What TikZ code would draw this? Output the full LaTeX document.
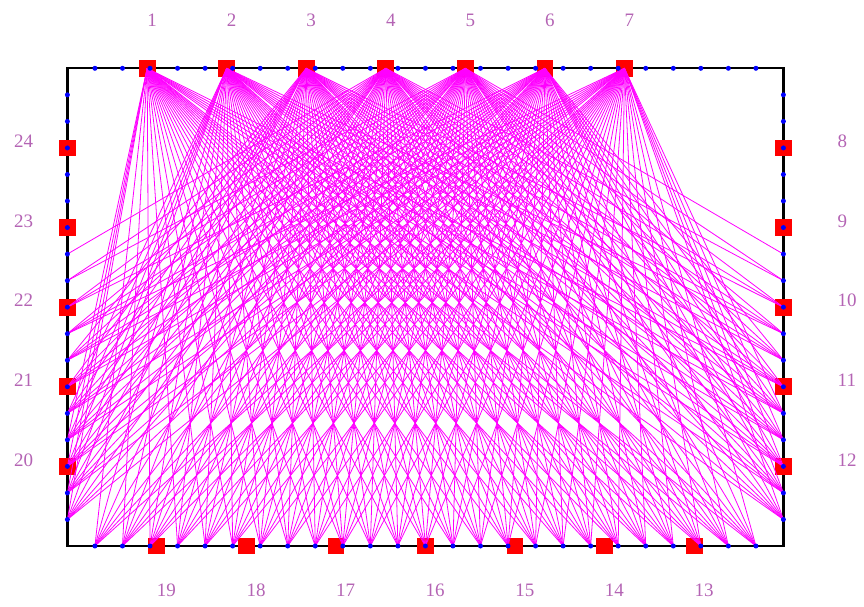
\documentclass[tikz,border=0pt]{standalone}
\usepackage{fontspec}
\setmainfont{Liberation Serif}
\definecolor{labc}{RGB}{180,100,180}
\definecolor{raym}{RGB}{255,0,255}
\begin{document}
\begin{tikzpicture}[x=1pt,y=-1pt,
  frame/.style={draw=black,line width=2.3pt},
  sq/.style={rectangle,fill=red,minimum size=16.7pt,inner sep=0pt},
  ray/.style={draw=raym,line width=0.8pt},
  rdot/.style={fill=blue},
  lab/.style={text=labc,inner sep=0pt,anchor=west,font=\fontsize{19}{19}\selectfont}]
\useasboundingbox (0,0) rectangle (864,607);
% receiver coordinates
\foreach \k in {1,...,25} {
  \coordinate (T\k) at ({67.4+27.54*\k},68.3);
  \coordinate (B\k) at ({67.4+27.54*\k},546);
}
\foreach \j in {1,...,17} {
  \coordinate (L\j) at (67.4,{68.3+26.54*\j});
  \coordinate (R\j) at (783.4,{68.3+26.54*\j});
}
\coordinate (C1) at (67.4,68.3);
\coordinate (C2) at (783.4,546);
\draw[frame] (C1) rectangle (C2);
% sources (squares)
\foreach \i in {1,...,7} {
  \node[sq] (S\i) at ({385.8+79.55*(\i-4)},68.3) {};
}
\node[sq] (S8) at (R3) {};
\node[sq] (S9) at (R6) {};
\node[sq] (S10) at (R9) {};
\node[sq] (S11) at (R12) {};
\node[sq] (S12) at (R15) {};
\foreach \n in {13,...,19} {
  \node[sq] (S\n) at ({425.5+89.6*(16-\n)},546) {};
}
\node[sq] (S20) at (L15) {};
\node[sq] (S21) at (L12) {};
\node[sq] (S22) at (L9) {};
\node[sq] (S23) at (L6) {};
\node[sq] (S24) at (L3) {};
% rays
\foreach \i in {1,...,7} {
  \foreach \k in {1,...,25} { \draw[ray] (S\i.center) -- (B\k); }
  \foreach \j in {1,...,17} {
    \pgfmathsetmacro\sx{385.8+79.55*(\i-4)}
    \pgfmathsetmacro\dy{26.54*\j/100}
    \pgfmathsetmacro\dl{(\sx-67.4)/100}
    \pgfmathsetmacro\dr{(783.4-\sx)/100}
    \pgfmathtruncatemacro\okl{and(\dl<=\dy*2.125, \dl*\dl+\dy*\dy>=13.1)}
    \pgfmathtruncatemacro\okr{and(\dr<=\dy*2.125, \dr*\dr+\dy*\dy>=13.1)}
    \ifnum\okl=1 \draw[ray] (S\i.center) -- (L\j); \fi
    \ifnum\okr=1 \draw[ray] (S\i.center) -- (R\j); \fi
  }
}
% receivers (dots)
\foreach \k in {1,...,25} { \fill[rdot] (T\k) circle (2.5); \fill[rdot] (B\k) circle (2.5); }
\foreach \j in {1,...,17} { \fill[rdot] (L\j) circle (2.5); \fill[rdot] (R\j) circle (2.5); }
% labels
\foreach \i in {1,...,7} {
  \node[lab] (N\i) at ({385.8+79.55*(\i-4)},20) {\i};
}
\foreach \n/\j in {8/3,9/6,10/9,11/12,12/15} {
  \node[lab] (N\n) at (837.5,{68.3+26.54*\j-6.5}) {\n};
}
\foreach \n in {13,...,19} {
  \node[lab] (N\n) at ({425.5+89.6*(16-\n)},590) {\n};
}
\foreach \n/\j in {20/15,21/12,22/9,23/6,24/3} {
  \node[lab] (N\n) at (14,{68.3+26.54*\j-6.5}) {\n};
}
\end{tikzpicture}
\end{document}
